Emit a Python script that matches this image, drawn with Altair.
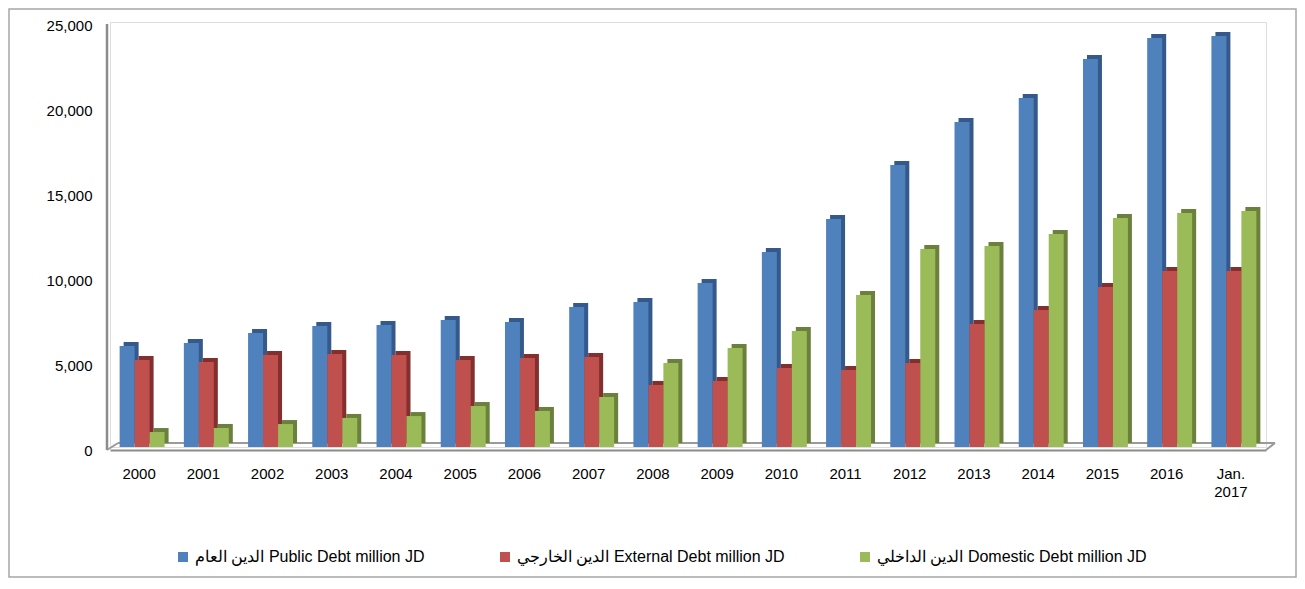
import altair as alt
import pandas as pd

years = ["2000", "2001", "2002", "2003", "2004", "2005", "2006", "2007", "2008",
         "2009", "2010", "2011", "2012", "2013", "2014", "2015", "2016", "Jan. 2017"]
series = ["الدين العام Public Debt million JD",
          "الدين الخارجي External Debt million JD",
          "الدين الداخلي Domestic Debt million JD"]
public = [5940, 6120, 6710, 7120, 7180, 7470, 7350, 8240, 8530,
          9650, 11470, 13410, 16590, 19120, 20530, 22820, 24060, 24180]
external = [5120, 5000, 5410, 5470, 5410, 5120, 5240, 5290, 3650,
            3880, 4650, 4530, 4940, 7240, 8060, 9410, 10350, 10350]
domestic = [880, 1120, 1350, 1710, 1820, 2410, 2120, 2940, 4940,
            5820, 6820, 8940, 11650, 11820, 12530, 13470, 13770, 13880]
y_ticks = [0, 5000, 10000, 15000, 20000, 25000]
front_colors = ["#4F81BD", "#C0504D", "#9BBB59"]
side_colors = ["#34598A", "#832F2D", "#6B803C"]

rows = []
for s, vals in zip(series, [public, external, domestic]):
    for yr, v in zip(years, vals):
        rows.append({"year": yr, "series": s, "value": v})
df = pd.DataFrame(rows)

W, H = 1156, 425
FONT = "Liberation Sans"

ydom = alt.Scale(domain=[0, 25000])
off_scale = alt.Scale(paddingInner=0, paddingOuter=0)
y_axis = alt.Axis(title=None, values=y_ticks, format=",.0f", ticks=False, grid=False,
                  domain=False, offset=3, labelPadding=15, labelFontSize=15,
                  labelColor="#000000", labelOffset=3, labelFont=FONT)

side = alt.Chart(df).mark_bar(yOffset=-4, y2Offset=-4).encode(
    x=alt.X("year:N", sort=years,
            scale=alt.Scale(paddingInner=0.3, paddingOuter=0.15, range=[4, W + 4]),
            axis=None),
    xOffset=alt.XOffset("series:N", sort=series, scale=off_scale),
    y=alt.Y("value:Q", scale=ydom, axis=y_axis),
    color=alt.Color("series:N", sort=series,
                    scale=alt.Scale(domain=series, range=side_colors), legend=None),
)

front = alt.Chart(df).mark_bar().encode(
    x=alt.X("year:N", sort=years,
            scale=alt.Scale(paddingInner=0.3, paddingOuter=0.15),
            axis=alt.Axis(title=None, labelAngle=0, ticks=False, domainColor="#8C8C8C",
                          domainWidth=2, offset=3, labelPadding=16, labelFontSize=15,
                          labelColor="#000000", labelOffset=-3, labelFont=FONT,
                          labelExpr="split(datum.label, ' ')", labelLineHeight=18)),
    xOffset=alt.XOffset("series:N", sort=series, scale=off_scale),
    y=alt.Y("value:Q", scale=ydom, axis=y_axis),
    color=alt.Color("series:N", sort=series,
                    scale=alt.Scale(domain=series, range=front_colors),
                    legend=alt.Legend(title=None, orient="none", legendX=65, legendY=527,
                                      direction="horizontal", symbolType="square",
                                      symbolSize=100, symbolStrokeWidth=0, labelFontSize=16,
                                      labelFont=FONT, labelColor="#000000",
                                      columnPadding=72, labelOffset=4, padding=0,
                                      labelLimit=600)),
)

one = pd.DataFrame({"k": [0]})
y_line = alt.Chart(one).mark_rule(color="#8C8C8C", strokeWidth=2.5).encode(
    x=alt.value(-3), y=alt.value(2), y2=alt.value(H + 3))
floor_back = alt.Chart(one).mark_rule(color="#9A9A9A", strokeWidth=2).encode(
    x=alt.value(8), x2=alt.value(W + 9), y=alt.value(H - 4))
diag_left = alt.Chart(one).mark_rule(color="#9A9A9A", strokeWidth=2).encode(
    x=alt.value(-3), x2=alt.value(8), y=alt.value(H + 3), y2=alt.value(H - 4))
diag_right = alt.Chart(one).mark_rule(color="#9A9A9A", strokeWidth=2).encode(
    x=alt.value(W), x2=alt.value(W + 9), y=alt.value(H + 3), y2=alt.value(H - 4))
border = alt.Chart(one).mark_rect(fillOpacity=0, stroke="#A6A6A6", strokeWidth=1.5).encode(
    x=alt.value(-101), x2=alt.value(W + 30), y=alt.value(-13), y2=alt.value(H + 130))

chart = alt.layer(border, y_line, floor_back, diag_left, diag_right, side, front).resolve_scale(
    x="independent", color="independent"
).properties(
    width=W, height=H,
    padding={"left": 102, "top": 14, "right": 31, "bottom": 131},
    autosize="none",
).configure_view(stroke=None).configure(font=FONT)

chart.save("out.html", embed_options={"renderer": "svg", "actions": False})
